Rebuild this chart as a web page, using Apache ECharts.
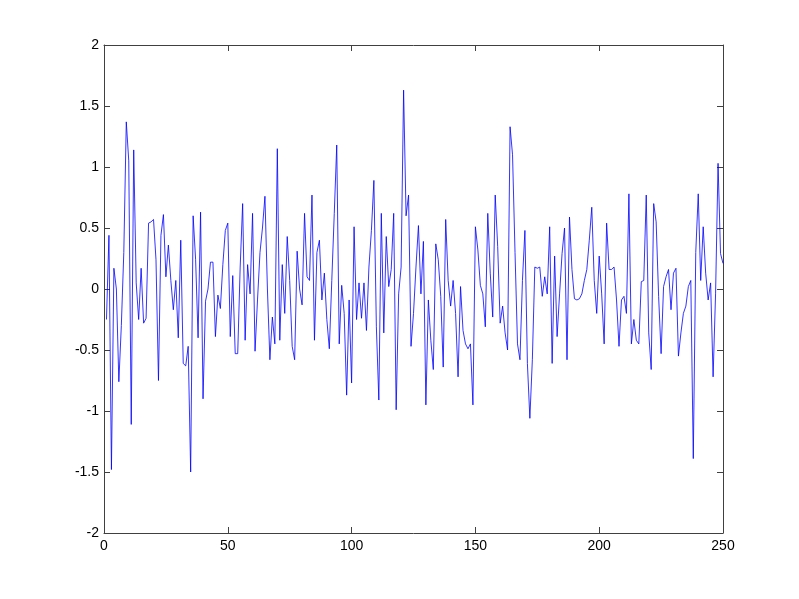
<!DOCTYPE html>
<html>
<head>
<meta charset="utf-8">
<script src="https://cdn.jsdelivr.net/npm/echarts@6/dist/echarts.min.js"></script>
<style>
html,body{margin:0;padding:0;background:#fff;}
#c{width:799px;height:599px;}
</style>
</head>
<body>
<div id="c"></div>
<script>
// Sample values, index 1..250
var values = [
-0.25,0.44,-1.48,0.17,0.0,-0.76,-0.3,0.3,1.37,1.05,
-1.11,1.14,0.05,-0.25,0.17,-0.28,-0.24,0.54,0.55,0.57,
0.24,-0.75,0.44,0.61,0.1,0.36,0.07,-0.17,0.07,-0.4,
0.4,-0.61,-0.63,-0.47,-1.5,0.6,0.24,-0.4,0.63,-0.9,
-0.1,0.0,0.22,0.22,-0.39,-0.05,-0.16,0.2,0.48,0.54,
-0.39,0.11,-0.53,-0.53,0.18,0.7,-0.42,0.2,-0.04,0.62,
-0.51,-0.09,0.3,0.5,0.76,0.0,-0.58,-0.23,-0.45,1.15,
-0.42,0.2,-0.2,0.43,0.07,-0.47,-0.58,0.31,0.0,-0.13,
0.62,0.1,0.07,0.77,-0.42,0.3,0.4,-0.09,0.13,-0.25,
-0.49,0.07,0.62,1.18,-0.45,0.03,-0.2,-0.87,-0.09,-0.77,
0.51,-0.25,0.05,-0.24,0.05,-0.34,0.18,0.48,0.89,-0.31,
-0.91,0.62,-0.36,0.43,0.02,0.16,0.62,-0.99,-0.04,0.18,
1.63,0.6,0.77,-0.47,-0.2,0.18,0.52,-0.04,0.39,-0.95,
-0.09,-0.42,-0.66,0.37,0.24,-0.06,-0.64,0.57,0.07,-0.14,
0.07,-0.2,-0.72,0.02,-0.34,-0.45,-0.49,-0.45,-0.95,0.51,
0.32,0.03,-0.04,-0.31,0.62,0.13,-0.23,0.77,0.35,-0.28,
-0.14,-0.36,-0.5,1.33,1.1,0.3,-0.45,-0.58,0.07,0.48,
-0.61,-1.06,-0.58,0.18,0.17,0.18,-0.06,0.1,-0.04,0.51,
-0.61,0.27,-0.39,-0.04,0.29,0.5,-0.58,0.59,0.16,-0.08,
-0.09,-0.08,-0.04,0.07,0.16,0.4,0.67,0.07,-0.2,0.27,
-0.04,-0.45,0.54,0.16,0.16,0.18,-0.09,-0.47,-0.09,-0.06,
-0.2,0.78,-0.45,-0.25,-0.42,-0.45,0.06,0.07,0.77,-0.36,
-0.66,0.7,0.55,-0.06,-0.53,0.02,0.1,0.16,-0.17,0.13,
0.17,-0.55,-0.36,-0.2,-0.14,0.02,0.07,-1.39,0.3,0.78,
0.07,0.51,0.13,-0.09,0.05,-0.72,-0.04,1.03,0.29,0.21
];
var xTicks = [0,50,100,150,200,250];
var yTicks = [-2,-1.5,-1,-0.5,0,0.5,1,1.5,2];

var points = values.map(function(v,i){ return [i+1, v]; });

var axisColor = '#404040';
var labelStyle = {color:'#000', fontFamily:'Liberation Sans, Arial, sans-serif', fontSize:14};

var chart = echarts.init(document.getElementById('c'), null, {renderer:'canvas'});
chart.setOption({
  animation:false,
  backgroundColor:'#fff',
  grid:{left:104, right:76, top:45, bottom:66, containLabel:false},
  xAxis:[
    {type:'value', position:'bottom', min:xTicks[0], max:xTicks[xTicks.length-1], interval:50,
     axisLine:{show:true, onZero:false, lineStyle:{color:axisColor, width:1}},
     axisTick:{show:true, inside:true, length:6, lineStyle:{color:axisColor}},
     axisLabel:Object.assign({margin:6}, labelStyle),
     splitLine:{show:false}},
    {type:'value', position:'top', min:xTicks[0], max:xTicks[xTicks.length-1], interval:50,
     axisLine:{show:true, onZero:false, lineStyle:{color:axisColor, width:1}},
     axisTick:{show:true, inside:true, length:6, lineStyle:{color:axisColor}},
     axisLabel:{show:false}, splitLine:{show:false}}
  ],
  yAxis:[
    {type:'value', position:'left', min:yTicks[0], max:yTicks[yTicks.length-1], interval:0.5,
     axisLine:{show:true, onZero:false, lineStyle:{color:axisColor, width:1}},
     axisTick:{show:true, inside:true, length:6, lineStyle:{color:axisColor}},
     axisLabel:Object.assign({margin:5}, labelStyle),
     splitLine:{show:false}},
    {type:'value', position:'right', min:yTicks[0], max:yTicks[yTicks.length-1], interval:0.5,
     axisLine:{show:true, onZero:false, lineStyle:{color:axisColor, width:1}},
     axisTick:{show:true, inside:true, length:6, lineStyle:{color:axisColor}},
     axisLabel:{show:false}, splitLine:{show:false}}
  ],
  series:[{
    type:'line', data:points, xAxisIndex:0, yAxisIndex:0,
    showSymbol:false, symbol:'none',
    lineStyle:{color:'#0000ff', width:0.8},
    z:1
  }]
});
</script>
</body>
</html>
